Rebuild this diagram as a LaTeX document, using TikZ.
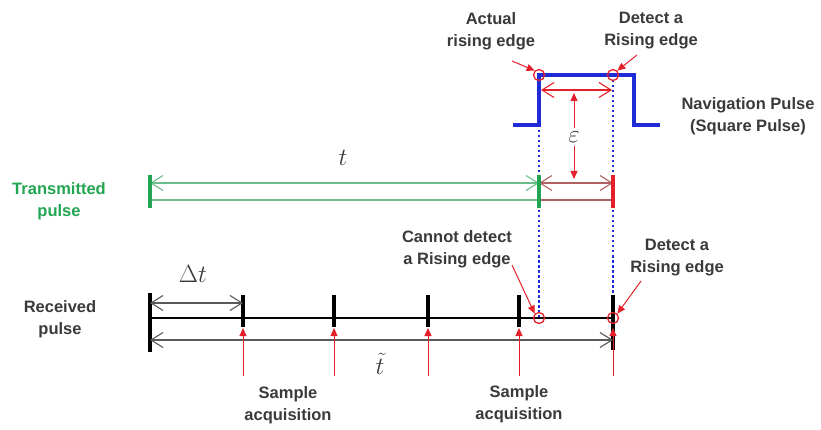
\documentclass[tikz,border=0pt]{standalone}
\usepackage{fontspec}
\setmainfont{Liberation Sans}
\usetikzlibrary{arrows.meta}
\definecolor{tgreen}{HTML}{22A552}
\definecolor{lgreen}{HTML}{6BBE8C}
\definecolor{pblue}{HTML}{1E2BD6}
\definecolor{pred}{HTML}{E5202A}
\definecolor{pbrown}{HTML}{B06060}
\definecolor{txt}{HTML}{3A3A3A}
\tikzset{
  lbl/.style={font=\fontsize{16.5}{22}\selectfont\bfseries, align=center, text=txt, inner sep=1pt},
  mth/.style={font=\fontsize{25}{28}\selectfont, text=txt, inner sep=1pt},
  dimarr/.style={{Straight Barb[length=12pt,width=15pt]}-{Straight Barb[length=12pt,width=15pt]}, line width=1.1pt},
  redarr/.style={pred, -{Triangle[length=8pt,width=7pt]}, line width=1pt},
  circ/.style={circle, draw=pred, line width=1.3pt, minimum size=11pt, inner sep=0pt},
  dotblue/.style={pblue, line width=2.8pt, dash pattern=on 2.5pt off 2.5pt},
  tick/.style={line width=3.2pt},
}
\begin{document}
\begin{tikzpicture}[x=1pt,y=-1pt]
\useasboundingbox (0,0) rectangle (821,430);
% square pulse
\coordinate (p0) at (513,125);
\coordinate (p1) at (539,125);
\coordinate (A) at (539,75);
\coordinate (D) at (613,75);
\coordinate (p3) at (634,75);
\coordinate (p4) at (634,125);
\coordinate (p5) at (660,125);
\coordinate (RA) at (539,318);
\coordinate (RD) at (613,318);
% blue dotted verticals
\draw[dotblue] (A) -- (RA);
\draw[dotblue] (D) -- (RD);
\draw[pblue, line width=3.6pt] (p0) -- (p1) -- (A) -- (p3) -- (p4) -- (p5);
% epsilon
\coordinate (e1) at (541,90);
\coordinate (e2) at (612,90);
\draw[dimarr, pred] (e1) -- (e2);
\node[mth] (eps) at (574,137) {$\varepsilon$};
\coordinate (eu) at (574,93);
\coordinate (ed) at (574,179);
\draw[redarr] (eps.north) ++(0,-2) -- (eu);
\draw[redarr] (eps.south) ++(0,2) -- (ed);
% transmitted
\coordinate (T0) at (150,183);
\coordinate (T1) at (539,183);
\coordinate (T2) at (613,183);
\coordinate (B0) at (150,200);
\coordinate (B1) at (539,200);
\coordinate (B2) at (613,200);
\draw[dimarr, lgreen] (T0) -- (T1);
\draw[lgreen, line width=1.1pt] (B0) -- (B1);
\draw[dimarr, pbrown] (T1) -- (T2);
\draw[pbrown, line width=1.1pt] (B1) -- (B2);
\draw[tick, tgreen] (150,175) -- (150,208);
\draw[tick, tgreen] (539,175) -- (539,208);
\draw[tick, pred] (613,175) -- (613,208);
\node[mth] (t) at (343,158) {$t$};
\node[lbl, text=tgreen] (tp) at (59,201) {Transmitted\\pulse};
% received
\coordinate (R0) at (150,318);
\draw[black, line width=1.2pt] (R0) -- (RD);
\draw[tick] (150,293) -- (150,352);
\foreach \x in {243,334,428,519} {\draw[tick] (\x,295) -- (\x,327);}
\draw[tick] (613,295) -- (613,350);
\coordinate (d0) at (150,303);
\coordinate (d1) at (243,303);
\draw[dimarr, black!65] (d0) -- (d1);
\node[mth, font=\fontsize{23}{26}\selectfont] (dt) at (193,274) {$\Delta t$};
\coordinate (L0) at (150,340);
\coordinate (L1) at (613,340);
\draw[dimarr, black!65] (L0) -- (L1);
\node[mth] (tt) at (380,364) {$\tilde{t}$};
\foreach \x in {243,334,428,519,613} {\draw[redarr] (\x,376) -- (\x,328);}
\node[lbl] (rp) at (60,319) {Received\\pulse};
% circles
\node[circ] (cA) at (A) {};
\node[circ] (cD) at (D) {};
\node[circ] (cRA) at (RA) {};
\node[circ] (cRD) at (RD) {};
% labels
\node[lbl] (la) at (491,31) {Actual\\rising edge};
\node[lbl] (ld) at (651,31) {Detect a\\Rising edge};
\node[lbl] (np) at (748,116) {Navigation Pulse\\(Square Pulse)};
\node[lbl] (cn) at (457,249) {Cannot detect\\a Rising edge};
\node[lbl] (ld2) at (677,258) {Detect a\\Rising edge};
\node[lbl] (sa1) at (288,405) {Sample\\acquisition};
\node[lbl] (sa2) at (519,404) {Sample\\acquisition};
% pointer arrows
\draw[redarr] (512,61) -- (cA.north west);
\draw[redarr] (637,55) -- (cD.north east);
\draw[redarr] (512,265) -- (cRA.north west);
\draw[redarr] (641,281) -- (cRD.north east);
\end{tikzpicture}
\end{document}
